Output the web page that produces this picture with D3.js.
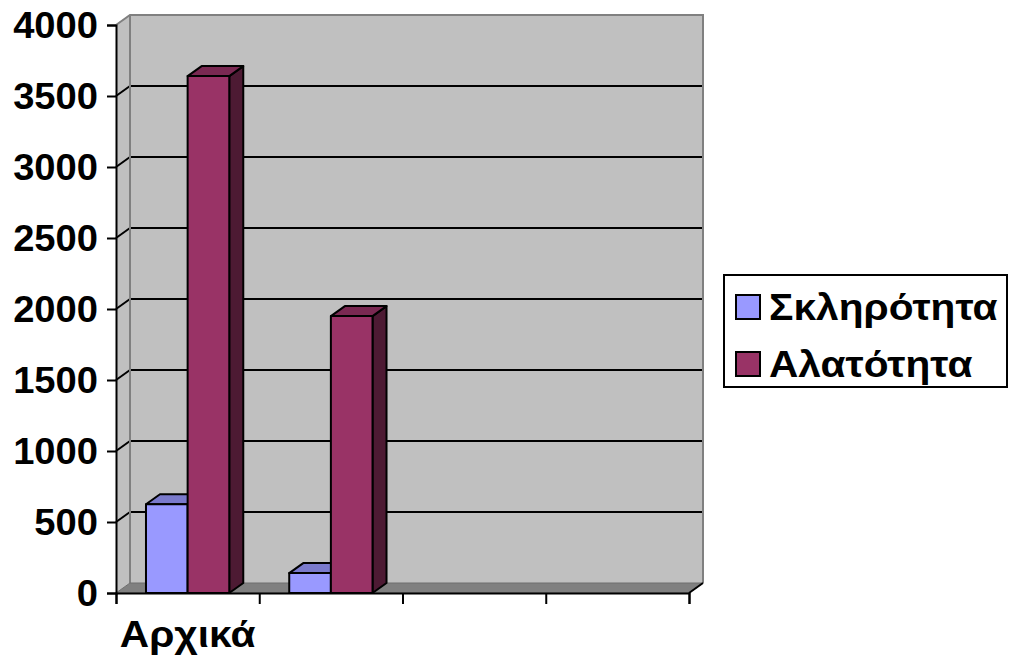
<!DOCTYPE html>
<html>
<head>
<meta charset="utf-8">
<script src="https://cdn.jsdelivr.net/npm/d3@7"></script>
<style>
  html, body { margin: 0; padding: 0; background: #ffffff; }
  svg { display: block; }
  text { font-family: "Liberation Sans", Arial, sans-serif; font-weight: bold; fill: #000; }
</style>
</head>
<body>
<svg id="chart" width="1010" height="664"></svg>
<script>
// Category slots along the floor (only the first one carries a name)
const categories = ["Αρχικά", "", "", ""];
const seriesNames = ["Σκληρότητα", "Αλατότητα"];
// Values per category, one array per series (null = no bar)
const hardness = [625, 140, null, null];
const salinity = [3640, 1950, null, null];
const yTickValues = [0, 500, 1000, 1500, 2000, 2500, 3000, 3500, 4000];

const seriesValues = [hardness, salinity];
const frontColors = ["#9999FF", "#993366"];
const topColors   = ["#7A7ACC", "#7A2952"];
const sideColors  = ["#5C5C99", "#4D1A33"];

// Wide bold lettering
const fontSize = 36, stretchX = 1.13, stretchDigits = 1.06;

const svg = d3.select("#chart");

// Front plane of the plot box and the depth offset of the 3D walls
const plotLeft = 116, plotRight = 689, plotBottom = 593, plotTop = 25;
const dx = 14, dy = -10;

const y = d3.scaleLinear().domain([0, 4000]).range([plotBottom, plotTop]);
const xCat = d3.scaleBand().domain(d3.range(categories.length)).range([plotLeft, plotRight]);
const xEdge = d3.scaleLinear().domain([0, categories.length]).range([plotLeft, plotRight]);
const xSeries = d3.scaleBand().domain(d3.range(seriesNames.length))
  .range([0, xCat.bandwidth()]).paddingInner(0).paddingOuter(0.72);

const wallFill = "#C0C0C0", wallEdge = "#808080";

// Side wall (left)
svg.append("polygon")
  .attr("points", [[plotLeft, y(4000)], [plotLeft + dx, y(4000) + dy], [plotLeft + dx, y(0) + dy], [plotLeft, y(0)]].join(" "))
  .attr("fill", wallFill).attr("stroke", "none");

// Back wall
svg.append("rect")
  .attr("x", plotLeft + dx).attr("y", y(4000) + dy)
  .attr("width", plotRight - plotLeft).attr("height", y(0) - y(4000))
  .attr("fill", wallFill).attr("stroke", "none");

// Gridlines on back and side walls
const grid = svg.append("g");
yTickValues.filter(t => t > 0 && t < 4000).forEach(t => {
  grid.append("line")
    .attr("x1", plotLeft + dx).attr("x2", plotRight + dx)
    .attr("y1", y(t) + dy).attr("y2", y(t) + dy)
    .attr("stroke", "#000").attr("stroke-width", 2);
  grid.append("line")
    .attr("x1", plotLeft).attr("x2", plotLeft + dx)
    .attr("y1", y(t)).attr("y2", y(t) + dy)
    .attr("stroke", "#000").attr("stroke-width", 2);
});

// Wall edges
svg.append("path")
  .attr("d", `M${plotLeft},${y(4000)} L${plotLeft + dx},${y(4000) + dy} L${plotRight + dx},${y(4000) + dy} L${plotRight + dx},${y(0) + dy}`)
  .attr("fill", "none").attr("stroke", wallEdge).attr("stroke-width", 2);
svg.append("line")
  .attr("x1", plotLeft + dx).attr("x2", plotLeft + dx)
  .attr("y1", y(4000) + dy).attr("y2", y(0) + dy)
  .attr("stroke", wallEdge).attr("stroke-width", 2);

// Floor
svg.append("polygon")
  .attr("points", [[plotLeft, y(0)], [plotLeft + dx, y(0) + dy], [plotRight + dx, y(0) + dy], [plotRight, y(0)]].join(" "))
  .attr("fill", "#808080").attr("stroke", "#6E6E6E").attr("stroke-width", 1);
svg.append("line")
  .attr("x1", plotRight).attr("x2", plotRight + dx)
  .attr("y1", y(0)).attr("y2", y(0) + dy)
  .attr("stroke", "#000").attr("stroke-width", 2);

// Bars: side face, top face, front face
const bars = svg.append("g");
categories.forEach((c, ci) => {
  seriesValues.forEach((vals, si) => {
    const v = vals[ci];
    if (v == null) return;
    const x0 = xCat(ci) + xSeries(si);
    const x1 = x0 + xSeries.bandwidth();
    const yt = y(v), yb = y(0);
    const g = bars.append("g").attr("stroke", "#000").attr("stroke-width", 2).attr("stroke-linejoin", "round");
    g.append("polygon")
      .attr("points", [[x1, yt], [x1 + dx, yt + dy], [x1 + dx, yb + dy], [x1, yb]].join(" "))
      .attr("fill", sideColors[si]);
    g.append("polygon")
      .attr("points", [[x0, yt], [x0 + dx, yt + dy], [x1 + dx, yt + dy], [x1, yt]].join(" "))
      .attr("fill", topColors[si]);
    g.append("rect")
      .attr("x", x0).attr("y", yt).attr("width", x1 - x0).attr("height", yb - yt)
      .attr("fill", frontColors[si]);
  });
});

// Value axis
const yAxis = svg.append("g")
  .attr("transform", `translate(${plotLeft},0)`)
  .call(d3.axisLeft(y).tickValues(yTickValues).tickSize(9).tickPadding(8).tickFormat(d3.format("d")));
yAxis.select(".domain").attr("stroke", "#000").attr("stroke-width", 2);
yAxis.selectAll(".tick line").attr("stroke", "#000").attr("stroke-width", 2);
yAxis.selectAll(".tick text")
  .attr("x", 0)
  .attr("transform", `translate(-18,0) scale(${stretchDigits},1)`)
  .attr("font-size", fontSize).attr("font-family", "Liberation Sans, Arial, sans-serif")
  .attr("font-weight", "bold").attr("fill", "#000").attr("dy", "0.36em");

// Category axis: ticks on slot edges, labels on slot centres
const xAxis = svg.append("g")
  .attr("transform", `translate(0,${plotBottom})`)
  .call(d3.axisBottom(xEdge).tickValues(d3.range(categories.length + 1)).tickSize(11).tickFormat(""));
xAxis.select(".domain").attr("stroke", "#000").attr("stroke-width", 2);
xAxis.selectAll(".tick line").attr("stroke", "#000").attr("stroke-width", 2);

svg.append("g").selectAll("text")
  .data(categories)
  .join("text")
  .attr("transform", (d, i) => `translate(${xCat(i) + xCat.bandwidth() / 2},647) scale(${stretchX},1)`)
  .attr("text-anchor", "middle")
  .attr("font-size", fontSize)
  .text(d => d);

// Legend
const legend = svg.append("g");
legend.append("rect")
  .attr("x", 724).attr("y", 275).attr("width", 283).attr("height", 112)
  .attr("fill", "#fff").attr("stroke", "#000").attr("stroke-width", 2);
seriesNames.forEach((name, i) => {
  const cy = 307 + i * 57;
  legend.append("rect")
    .attr("x", 736).attr("y", cy - 12).attr("width", 24).attr("height", 24)
    .attr("fill", frontColors[i]).attr("stroke", "#000").attr("stroke-width", 2);
  legend.append("text")
    .attr("transform", `translate(769,${cy + 13}) scale(${stretchX},1)`)
    .attr("font-size", fontSize)
    .text(name);
});
</script>
</body>
</html>
